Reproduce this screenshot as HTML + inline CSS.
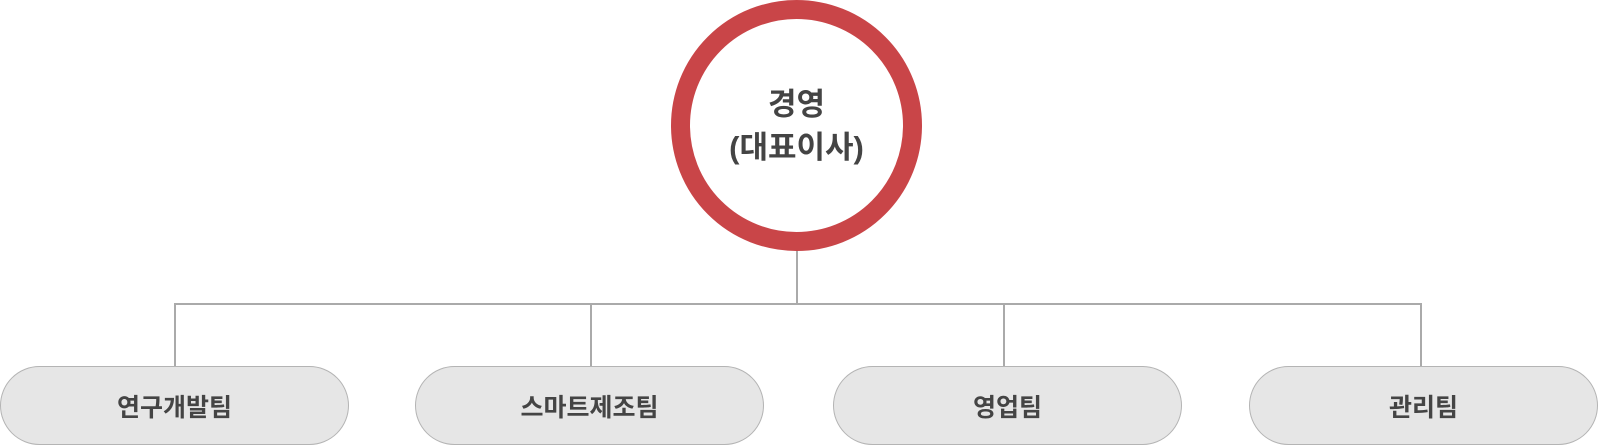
<!DOCTYPE html>
<html><head><meta charset="utf-8"><style>
body{margin:0;width:1600px;height:447px;background:#fff;overflow:hidden;position:relative;font-family:"Liberation Sans","Noto Sans CJK KR",sans-serif;}
.pill{position:absolute;top:366px;width:347px;height:77px;border:1px solid #b4b4b4;border-radius:40px;background:#e6e6e6;color:#444;font-weight:bold;font-size:25px;display:flex;align-items:center;justify-content:center;box-sizing:content-box}
.circ{position:absolute;left:671px;top:0;width:213px;height:213px;border:19.5px solid #c94548;border-radius:50%;background:#fff;color:#444;font-weight:bold;font-size:31px;line-height:43px;display:flex;align-items:center;justify-content:center;text-align:center}
.l{position:absolute;background:#aaa}
</style></head><body>
<div class="l" style="left:796px;top:250px;width:2px;height:55px"></div>
<div class="l" style="left:174px;top:303px;width:1248px;height:2px"></div>
<div class="l" style="left:174px;top:303px;width:2px;height:63px"></div>
<div class="l" style="left:590px;top:303px;width:2px;height:63px"></div>
<div class="l" style="left:1003px;top:303px;width:2px;height:63px"></div>
<div class="l" style="left:1420px;top:303px;width:2px;height:63px"></div>
<div class="circ"><div>경영<br>(대표이사)</div></div>
<div class="pill" style="left:0">연구개발팀</div>
<div class="pill" style="left:415px">스마트제조팀</div>
<div class="pill" style="left:833px">영업팀</div>
<div class="pill" style="left:1249px">관리팀</div>
</body></html>
